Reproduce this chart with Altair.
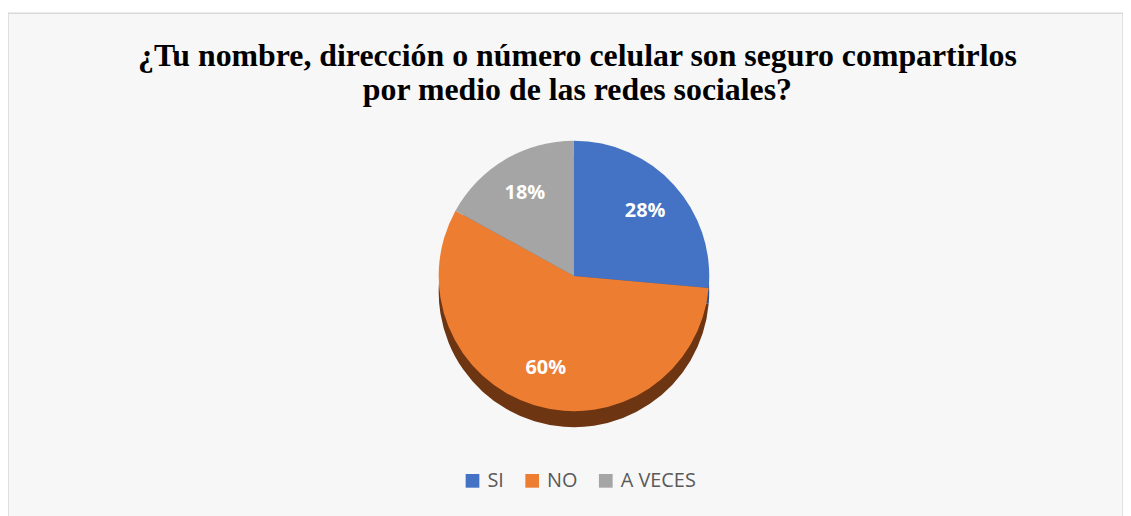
import altair as alt
import pandas as pd

categories = ["SI", "NO", "A VECES"]
values = [28, 60, 18]
labels = ["28%", "60%", "18%"]
order_idx = [1, 2, 3]

title_lines = [
    "¿Tu nombre, dirección o número celular son seguro compartirlos",
    "por medio de las redes sociales?",
]

df = pd.DataFrame({"cat": categories, "val": values, "lab": labels, "ord": order_idx})

top_colors = ["#4472C4", "#ED7D31", "#A5A5A5"]
side_colors = ["#2F528F", "#6E3512", "#6F6F6F"]

CX, CY, R, DEPTH = 569, 264, 136, 16

base = alt.Chart(df)

side = base.mark_arc(radius=R, stroke=None).encode(
    theta=alt.Theta("val:Q", stack=True),
    order=alt.Order("ord:Q"),
    fill=alt.Fill("cat:N", scale=alt.Scale(domain=categories, range=side_colors), legend=None),
    x=alt.value(CX),
    y=alt.value(CY + DEPTH),
)

top = base.mark_arc(radius=R, stroke=None).encode(
    theta=alt.Theta("val:Q", stack=True),
    order=alt.Order("ord:Q"),
    color=alt.Color(
        "cat:N",
        scale=alt.Scale(domain=categories, range=top_colors),
        legend=alt.Legend(
            title=None,
            orient="none",
            legendX=457,
            legendY=460,
            direction="horizontal",
            symbolType="square",
            symbolSize=190,
            symbolStrokeWidth=0,
            labelFont="Open Sans",
            labelFontSize=20,
            labelColor="#595959",
            columnPadding=18,
            labelOffset=5,
        ),
    ),
    x=alt.value(CX),
    y=alt.value(CY),
)

text = base.mark_text(
    radius=97, font="Open Sans", fontSize=20, fontWeight="bold", color="white"
).encode(
    theta=alt.Theta("val:Q", stack=True),
    order=alt.Order("ord:Q"),
    text="lab:N",
    x=alt.value(CX),
    y=alt.value(CY),
)

chart = (
    alt.layer(side, top, text)
    .resolve_scale(color="independent", fill="independent")
    .properties(
        width=1121,
        height=510,
        autosize=alt.AutoSizeParams(type="none"),
        padding={"left": 0, "top": 4, "right": 0, "bottom": 0},
        background="white",
        title=alt.TitleParams(
            text=title_lines,
            anchor="middle",
            font="Liberation Serif",
            fontSize=32,
            fontWeight="bold",
            color="black",
            lineHeight=34,
            offset=-94,
            dx=12,
        ),
    )
    .configure_view(fill="#F7F7F7", stroke="#D9D9D9", strokeWidth=1.5)
)

chart.save("out.html", embed_options={"renderer": "svg", "actions": False})
